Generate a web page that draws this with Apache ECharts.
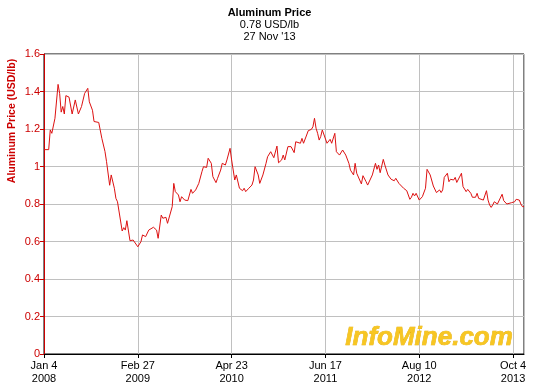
<!DOCTYPE html>
<html>
<head>
<meta charset="utf-8">
<script src="https://cdn.jsdelivr.net/npm/echarts@6/dist/echarts.min.js"></script>
<style>
html,body{margin:0;padding:0;background:#fff;}
#c{width:539px;height:390px;}
</style>
</head>
<body>
<div id="c"></div>
<script>
// week index since Jan 4 2008 (weekly data)
const weeks = [0,3,4,5,7,9,10,11,12,13,14,16,18,20,21,22,24,26,27,28,29,31,32,35,37,39,40,42,43,45,46,47,50,51,52,53,55,57,58,60,
62,63,65,67,68,70,72,73,75,76,78,79,82,83,84,86,87,88,90,91,92,94,95,97,99,101,102,104,105,107,108,110,111,113,114,116,
117,118,119,120,122,123,125,126,127,128,129,131,133,134,135,137,138,140,141,142,143,145,146,147,149,150,151,152,153,154,156,157,158,160,161,162,164,165,166,168,169,171,172,173,174,175,176,177,178,179,
181,182,183,184,186,187,189,190,191,193,195,196,197,198,199,200,201,203,204,206,207,208,210,212,213,214,215,217,218,219,220,222,223,224,225,227,228,230,231,232,234,235,236,237,238,240,
242,243,244,245,247,248,249,250,251,253,254,255,256,258,259,260,262,263,264,265,267,268,270,271,273,274,276,277,278,279,281,283,284,285,286,287,288,290,291,293,294,296,297,299,301,302,303,304,305,306,307];
const prices = [1.09,1.09,1.195,1.177,1.257,1.438,1.39,1.29,1.32,1.28,1.378,1.37,1.28,1.355,1.35,1.28,1.32,1.39,1.40,1.417,1.345,1.30,1.24,1.235,1.15,1.08,1.026,0.90,0.955,0.884,0.83,0.812,0.656,0.674,0.661,0.711,0.604,0.608,0.617,0.572,
0.599,0.635,0.626,0.661,0.652,0.676,0.661,0.617,0.741,0.724,0.729,0.697,0.786,0.91,0.866,0.848,0.812,0.839,0.821,0.83,0.818,0.878,0.857,0.875,0.91,0.972,0.999,0.995,1.044,1.017,0.946,0.914,0.937,0.981,1.017,1.008,
1.035,1.044,1.097,1.035,0.928,0.955,0.884,0.893,0.871,0.884,0.866,0.884,0.901,0.928,0.999,0.955,0.91,0.955,0.949,1.017,1.052,1.079,1.07,1.047,1.109,1.02,1.013,1.035,1.061,1.035,1.106,1.115,1.106,1.074,1.132,1.141,1.124,1.15,1.124,1.168,1.191,1.198,1.212,1.257,1.204,1.177,1.141,1.16,1.195,1.186,
1.124,1.132,1.145,1.124,1.177,1.079,1.061,1.07,1.088,1.061,1.017,0.981,0.985,0.955,1.017,0.964,0.955,0.907,0.951,0.919,0.901,0.896,0.955,1.017,0.985,1.008,0.967,1.038,1.008,0.999,0.955,0.932,0.924,0.924,0.937,0.91,0.919,0.884,0.875,0.871,0.825,0.836,0.857,0.843,0.857,0.821,
0.839,0.836,0.884,0.985,0.955,0.955,0.896,0.893,0.861,0.875,0.861,0.875,0.942,0.964,0.919,0.932,0.928,0.942,0.915,0.924,0.964,0.893,0.866,0.878,0.857,0.836,0.836,0.857,0.83,0.839,0.821,0.871,0.821,0.795,0.782,0.795,0.812,0.80,0.807,0.852,0.818,0.80,0.795,0.807,0.812,0.825,0.821,0.821,0.80,0.786,0.786];
const xTickWeeks = [0,60,120,180,240,300];
const xTickLabels = ['Jan 4\n2008','Feb 27\n2009','Apr 23\n2010','Jun 17\n2011','Aug 10\n2012','Oct 4\n2013'];
const titleLines = ['Aluminum Price','0.78 USD/lb',"27 Nov '13"];
const yAxisTitle = 'Aluminum Price (USD/lb)';

const FONT = 'Liberation Sans, Arial, sans-serif';
const RED = '#cc0000';
const chart = echarts.init(document.getElementById('c'), null, {renderer:'canvas'});
chart.setOption({
  animation:false,
  backgroundColor:'#fff',
  title:{
    text:titleLines[0],
    subtext:titleLines[1]+'\n'+titleLines[2],
    left:'center', top:2, itemGap:0,
    textStyle:{fontFamily:FONT,fontSize:11,fontWeight:'bold',color:'#000',lineHeight:12},
    subtextStyle:{fontFamily:FONT,fontSize:11,color:'#000',lineHeight:12}
  },
  grid:{left:44,right:15,top:54,bottom:36,show:true,borderColor:'#000',borderWidth:1,backgroundColor:'transparent',containLabel:false,outerBoundsMode:'none'},
  xAxis:{
    type:'value',min:0,max:307,interval:60,
    axisLine:{show:true,onZero:false,lineStyle:{color:'#000',width:1}},
    axisTick:{show:true,length:4,lineStyle:{color:'#000'}},
    axisLabel:{showMaxLabel:false,color:'#000',fontFamily:FONT,fontSize:11,lineHeight:13,margin:5,
      formatter:function(v){const i=xTickWeeks.indexOf(v);return i>=0?xTickLabels[i]:'';}},
    splitLine:{show:true,lineStyle:{color:'#c0c0c0',width:1}}
  },
  yAxis:{
    type:'value',min:0,max:1.6,interval:0.2,
    axisLine:{show:true,lineStyle:{color:RED,width:1}},
    axisTick:{show:true,length:4,lineStyle:{color:RED}},
    axisLabel:{color:RED,fontFamily:FONT,fontSize:11,margin:4},
    splitLine:{show:true,lineStyle:{color:'#c0c0c0',width:1}}
  },
  graphic:[{
    type:'text',z:1,x:12,y:121,rotation:Math.PI/2,silent:true,
    style:{text:yAxisTitle,font:'bold 10.5px '+FONT,fill:RED,align:'center',verticalAlign:'middle'}
  },{
    type:'text',z:1,left:345,top:325,silent:true,
    style:{text:'InfoMine.com',font:'italic bold 26px '+FONT,
      fill:'#f7c623',stroke:'#e0a800',lineWidth:0.6,
      shadowColor:'rgba(90,90,90,0.75)',shadowOffsetX:2,shadowOffsetY:2,shadowBlur:1}
  }],
  series:[{
    type:'line',data:weeks.map((w,i)=>[w,prices[i]]),
    symbol:'none',lineStyle:{color:'#dd1111',width:1},z:3
  }]
});
</script>
</body>
</html>
